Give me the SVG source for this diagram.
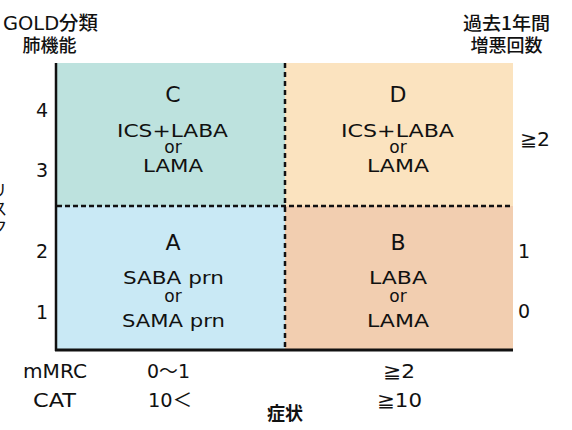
<svg xmlns="http://www.w3.org/2000/svg" width="572" height="430" viewBox="0 0 572 430">
<style>
text{font-family:"DejaVu Sans","Noto Sans CJK JP",sans-serif;fill:#111;}
.q{font-size:17px;text-anchor:middle;}
.big{font-size:22px;text-anchor:middle;}
.ax{font-size:19px;text-anchor:middle;}
.jp{font-family:"Noto Sans CJK JP",sans-serif;font-size:18px;text-anchor:middle;font-weight:500;}
.rs{font-family:"Noto Sans CJK JP",sans-serif;font-size:17px;writing-mode:vertical-rl;letter-spacing:1px;}
.dash{stroke:#111;stroke-width:2.5;fill:none;}
</style>
<rect width="572" height="430" fill="#fff"/>
<g id="quadC"><rect x="57" y="63" width="228" height="143" fill="#bde2de"/>
<text class="big" x="173" y="102">C</text>
<text class="q" x="172.5" y="137" textLength="111" lengthAdjust="spacingAndGlyphs">ICS+LABA</text>
<text class="q" x="173" y="153">or</text>
<text class="q" x="173" y="172" textLength="60" lengthAdjust="spacingAndGlyphs">LAMA</text></g>
<g id="quadD"><rect x="285" y="63" width="228" height="143" fill="#fbe3bf"/>
<text class="big" x="398" y="102">D</text>
<text class="q" x="397.5" y="137" textLength="113" lengthAdjust="spacingAndGlyphs">ICS+LABA</text>
<text class="q" x="398" y="153">or</text>
<text class="q" x="398" y="172" textLength="62" lengthAdjust="spacingAndGlyphs">LAMA</text></g>
<g id="quadA"><rect x="57" y="206" width="228" height="144" fill="#c9e9f5"/>
<text class="big" x="173" y="250">A</text>
<text class="q" x="173.5" y="284" textLength="101" lengthAdjust="spacingAndGlyphs">SABA prn</text>
<text class="q" x="173" y="302">or</text>
<text class="q" x="173.5" y="327" textLength="103" lengthAdjust="spacingAndGlyphs">SAMA prn</text></g>
<g id="quadB"><rect x="285" y="206" width="228" height="144" fill="#f2ceb0"/>
<text class="big" x="398" y="250">B</text>
<text class="q" x="398" y="284" textLength="58" lengthAdjust="spacingAndGlyphs">LABA</text>
<text class="q" x="398" y="302">or</text>
<text class="q" x="398" y="327" textLength="62" lengthAdjust="spacingAndGlyphs">LAMA</text></g>
<g id="connectors">
<line x1="57" y1="206" x2="513" y2="206" class="dash" stroke-dasharray="5,3"/>
<line x1="285" y1="63" x2="285" y2="350" class="dash" stroke-dasharray="5,4"/>
<line x1="56" y1="63" x2="56" y2="351" stroke="#111" stroke-width="2.5"/>
<line x1="55" y1="350" x2="513" y2="350" stroke="#111" stroke-width="3"/>
</g>
<g id="labels">
<text x="50.5" y="30" style="font-size:19px;text-anchor:middle" textLength="95" lengthAdjust="spacingAndGlyphs">GOLD<tspan font-family="Noto Sans CJK JP" font-weight="500">分類</tspan></text>
<text class="jp" x="49.5" y="52">肺機能</text>
<text class="jp" x="506.5" y="30" textLength="87" lengthAdjust="spacingAndGlyphs">過去1年間</text>
<text class="jp" x="506.5" y="52">増悪回数</text>
<text class="rs" x="-1" y="182">リスク</text>
<text class="ax" x="42" y="117">4</text>
<text class="ax" x="42" y="177">3</text>
<text class="ax" x="42" y="258">2</text>
<text class="ax" x="42" y="319">1</text>
<text class="ax" x="535" y="146" textLength="30" lengthAdjust="spacingAndGlyphs">≧2</text>
<text class="ax" x="524" y="258">1</text>
<text class="ax" x="524" y="318">0</text>
<text class="ax" x="55" y="378" textLength="64" lengthAdjust="spacingAndGlyphs">mMRC</text>
<text class="ax" x="168.5" y="378" textLength="43" lengthAdjust="spacingAndGlyphs">0〜1</text>
<text class="ax" x="399" y="378" textLength="32" lengthAdjust="spacingAndGlyphs">≧2</text>
<text class="ax" x="54.5" y="407" textLength="43" lengthAdjust="spacingAndGlyphs">CAT</text>
<text class="ax" x="170" y="407" textLength="44" lengthAdjust="spacingAndGlyphs">10＜</text>
<text class="ax" x="399.5" y="407" textLength="45" lengthAdjust="spacingAndGlyphs">≧10</text>
<text x="285" y="420" style="font-family:'Noto Sans CJK JP',sans-serif;font-size:18px;font-weight:700;text-anchor:middle">症状</text>
</g>
</svg>
